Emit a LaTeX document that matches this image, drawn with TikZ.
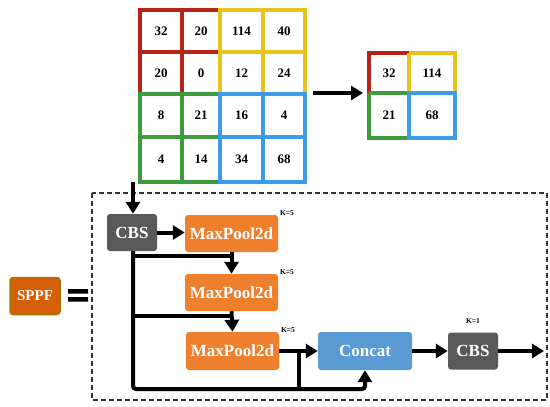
\documentclass[tikz,border=0pt]{standalone}
\usepackage{fontspec}
\setmainfont{Liberation Serif}
\usetikzlibrary{arrows.meta}
\definecolor{qred}{HTML}{B5231A}
\definecolor{qyel}{HTML}{E8C41A}
\definecolor{qgrn}{HTML}{3E9B40}
\definecolor{qblu}{HTML}{3D9BE9}
\definecolor{cbsgray}{HTML}{595959}
\definecolor{mporange}{HTML}{EE7F2D}
\definecolor{catblue}{HTML}{5B9BD5}
\definecolor{sppffill}{HTML}{D65F0A}
\definecolor{sppfedge}{HTML}{A97400}
\tikzset{
  num/.style={font=\bfseries\fontsize{13}{13}\selectfont, text=black},
  blk/.style={rounded corners=3pt, minimum height=37pt, inner sep=0pt,
     text=white, font=\bfseries\fontsize{17}{17}\selectfont},
  cbsbox/.style={blk, fill=cbsgray, minimum width=50pt},
  mpbox/.style={blk, fill=mporange, minimum width=93pt},
  catbox/.style={blk, fill=catblue, minimum width=94pt},
  klab/.style={font=\bfseries\fontsize{7.5}{7.5}\selectfont, inner sep=0pt},
  conn/.style={line width=4pt, -{Triangle[length=12pt,width=14pt]}},
  plain/.style={line width=4pt},
  gridline/.style={line width=4pt}
}
\begin{document}
\begin{tikzpicture}[x=1pt,y=-1pt]
\useasboundingbox (0,0) rectangle (550,407);
% big grid
\draw[gridline, qred] (140,10) rectangle (220,94) (182,10) -- (182,94) (140,52) -- (220,52);
\draw[gridline, qyel] (220,10) rectangle (305,94) (263,10) -- (263,94) (220,52) -- (305,52);
\draw[gridline, qgrn] (140,94) rectangle (220,182) (182,94) -- (182,182) (140,137) -- (220,137);
\draw[gridline, qblu] (220,94) rectangle (305,182) (263,94) -- (263,182) (220,137) -- (305,137);
\foreach \v/\x/\y/\n in {32/161/31/a1, 20/201/31/a2, 114/241.5/31/a3, 40/284/31/a4,
  20/161/73/b1, 0/201/73/b2, 12/241.5/73/b3, 24/284/73/b4,
  8/161/115.5/c1, 21/201/115.5/c2, 16/241.5/115.5/c3, 4/284/115.5/c4,
  4/161/159.5/d1, 14/201/159.5/d2, 34/241.5/159.5/d3, 68/284/159.5/d4}
  \node[num] (g\n) at (\x,\y) {\v};
% small grid
\draw[gridline, qred] (369,93) -- (369,53) -- (409,53);
\draw[gridline, qyel] (409,53) -- (455,53) -- (455,93) (409,53) -- (409,93);
\draw[gridline, qgrn] (369,93) -- (369,138) -- (409,138) (369,93) -- (409,93);
\draw[gridline, qblu] (409,93) rectangle (455,138);
\node[num] (s1) at (389,73) {32};
\node[num] (s2) at (432,73) {114};
\node[num] (s3) at (389,115.5) {21};
\node[num] (s4) at (432,115.5) {68};
\coordinate (bigE) at (313,93);
\coordinate (smallW) at (363,93);
\draw[conn] (bigE) -- (smallW);
% dashed box
\draw[dash pattern=on 5pt off 3pt, line width=1.2pt, black!80] (92,193) rectangle (547,400);
% SPPF
\node[blk, fill=sppffill, draw=sppfedge, line width=1.5pt, minimum width=50pt, minimum height=37pt,
  font=\bfseries\fontsize{15}{15}\selectfont] (sppf) at (35,296) {SPPF};
\fill (68,289) rectangle (88,293.5) (68,297) rectangle (88,301.5);
% blocks
\node[cbsbox] (cbs1) at (132,232.5) {CBS};
\node[mpbox] (mp1) at (231.5,233.5) {MaxPool2d};
\node[mpbox] (mp2) at (231.5,292.5) {MaxPool2d};
\node[mpbox, minimum height=38pt] (mp3) at (232.5,351) {MaxPool2d};
\node[catbox, minimum height=38pt] (cat) at (365,351) {Concat};
\node[cbsbox] (cbs2) at (473,351) {CBS};
\node[klab] (k1) at (287,213) {K=5};
\node[klab] (k2) at (287,272) {K=5};
\node[klab] (k3) at (288,330) {K=5};
\node[klab] (k4) at (473,321) {K=1};
% connectors
\coordinate (bigS) at (133,182);
\coordinate (out) at (544,351);
\coordinate (joint) at (299,389);
\draw[conn] (bigS) -- (cbs1.north -| bigS);
\draw[conn] (cbs1.east) -- (mp1.west |- cbs1.east);
\draw[conn] (mp1.south) -- (mp2.north);
\draw[conn] (mp2.south) -- (mp3.north);
\draw[plain, rounded corners=3pt] (cbs1.south -| bigS) -- (133,389) -- (joint);
\draw[conn, rounded corners=3pt] (joint) -- (cat.south |- joint) -- (cat.south);
\draw[plain] (131,256) -- (mp1.south |- 0,256);
\draw[plain] (131,316) -- (mp2.south |- 0,316);
\draw[conn] (mp3.east) -- (cat.west);
\draw[plain] (299,349) -- (299,391);
\draw[conn] (cat.east) -- (cbs2.west);
\draw[conn] (cbs2.east) -- (out);
\end{tikzpicture}
\end{document}
